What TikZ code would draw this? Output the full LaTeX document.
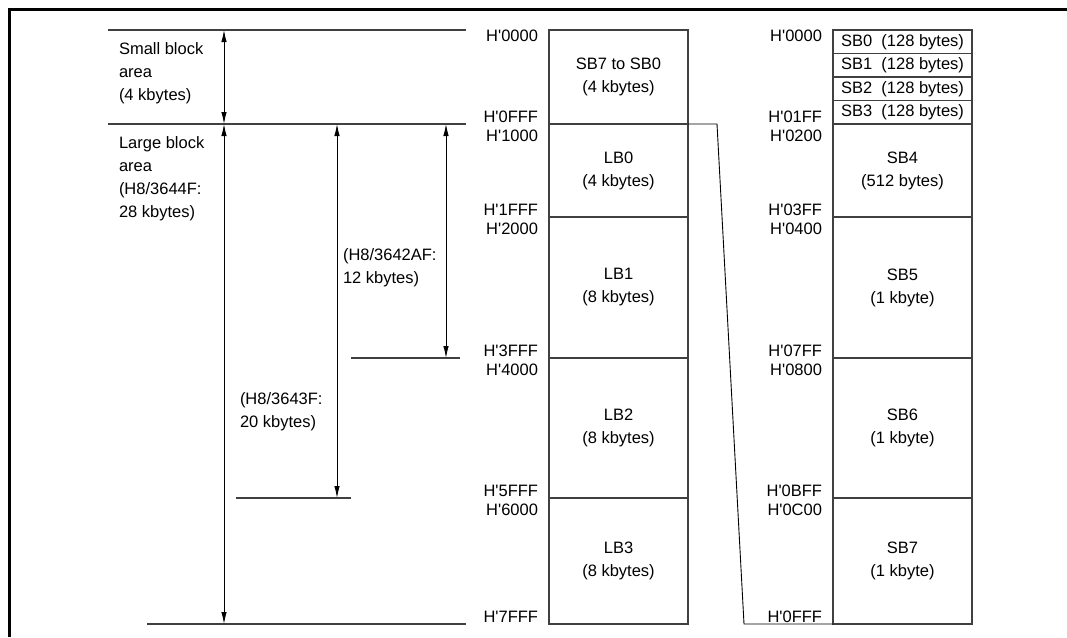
\documentclass[tikz,border=0pt]{standalone}
\usepackage{fontspec}
\setmainfont{Liberation Sans}
\usetikzlibrary{arrows.meta}
\newcommand{\Hq}{H\textquotesingle}
\begin{document}
\begin{tikzpicture}[x=1pt,y=-1pt,
  every node/.style={font=\fontsize{16.5}{23}\selectfont, inner sep=0pt, outer sep=0pt},
  blk/.style={draw=black!75, line width=1.1pt, anchor=north west, align=center, minimum width=139pt},
  addr/.style={anchor=base east},
  lbl/.style={anchor=north west, align=left},
  guide/.style={draw=black!75, line width=1.1pt},
  dim/.style={draw=black, line width=0.9pt, {Latex[length=12pt,width=5.5pt]}-{Latex[length=12pt,width=5.5pt]}},
  frameline/.style={draw=black, line width=3pt}
]
\useasboundingbox (0,0) rectangle (1067,637);

% frame
\coordinate (f0) at (9,637);
\coordinate (f1) at (9,9);
\coordinate (f2) at (1067,9);
\draw[frameline] (f0) -- (f1) -- (f2);

% middle column
\node[blk, minimum height=94pt] (sba) at (549,30) {SB7 to SB0\\(4 kbytes)};
\node[blk, minimum height=93pt] (lb0) at (549,124) {LB0\\(4 kbytes)};
\node[blk, minimum height=141pt] (lb1) at (549,217) {LB1\\(8 kbytes)};
\node[blk, minimum height=140pt] (lb2) at (549,358) {LB2\\(8 kbytes)};
\node[blk, minimum height=126pt] (lb3) at (549,498) {LB3\\(8 kbytes)};

% right column
\node[blk, minimum height=23.5pt] (sb0) at (833,30) {SB0\ \ (128 bytes)};
\node[blk, minimum height=23.5pt] (sb1) at (833,53.5) {SB1\ \ (128 bytes)};
\node[blk, minimum height=23.5pt] (sb2) at (833,77) {SB2\ \ (128 bytes)};
\node[blk, minimum height=23.5pt] (sb3) at (833,100.5) {SB3\ \ (128 bytes)};
\node[blk, minimum height=93pt] (sb4) at (833,124) {SB4\\(512 bytes)};
\node[blk, minimum height=141pt] (sb5) at (833,217) {SB5\\(1 kbyte)};
\node[blk, minimum height=140pt] (sb6) at (833,358) {SB6\\(1 kbyte)};
\node[blk, minimum height=126pt] (sb7) at (833,498) {SB7\\(1 kbyte)};

% connector
\coordinate (k1) at (717,124);
\coordinate (k2) at (744,624);
\draw[guide, line width=0.9pt, draw=black] (lb0.north east) -- (k1) -- (k2) -- (sb7.south west);

% middle addresses
\node[addr] (m0) at (538,41) {\Hq0000};
\node[addr] (m1) at (538,122) {\Hq0FFF};
\node[addr] (m2) at (538,141) {\Hq1000};
\node[addr] (m3) at (538,215) {\Hq1FFF};
\node[addr] (m4) at (538,234) {\Hq2000};
\node[addr] (m5) at (538,356) {\Hq3FFF};
\node[addr] (m6) at (538,375) {\Hq4000};
\node[addr] (m7) at (538,496) {\Hq5FFF};
\node[addr] (m8) at (538,515) {\Hq6000};
\node[addr] (m9) at (538,622) {\Hq7FFF};

% right addresses
\node[addr] (r0) at (822,41) {\Hq0000};
\node[addr] (r1) at (822,122) {\Hq01FF};
\node[addr] (r2) at (822,141) {\Hq0200};
\node[addr] (r3) at (822,215) {\Hq03FF};
\node[addr] (r4) at (822,234) {\Hq0400};
\node[addr] (r5) at (822,356) {\Hq07FF};
\node[addr] (r6) at (822,375) {\Hq0800};
\node[addr] (r7) at (822,496) {\Hq0BFF};
\node[addr] (r8) at (822,515) {\Hq0C00};
\node[addr] (r9) at (822,622) {\Hq0FFF};

% guide lines
\coordinate (g1a) at (108,30);  \coordinate (g1b) at (466,30);
\coordinate (g2a) at (108,124); \coordinate (g2b) at (466,124);
\coordinate (g3a) at (351,358); \coordinate (g3b) at (460,358);
\coordinate (g4a) at (236,498); \coordinate (g4b) at (351,498);
\coordinate (g5a) at (147,624); \coordinate (g5b) at (466,624);
\draw[guide] (g1a) -- (g1b);
\draw[guide] (g2a) -- (g2b);
\draw[guide] (g3a) -- (g3b);
\draw[guide] (g4a) -- (g4b);
\draw[guide] (g5a) -- (g5b);

% dimension arrows
\coordinate (d1a) at (224,30);  \coordinate (d1b) at (224,124);
\coordinate (d2a) at (224,124); \coordinate (d2b) at (224,624);
\coordinate (d3a) at (337,124); \coordinate (d3b) at (337,498);
\coordinate (d4a) at (446,124); \coordinate (d4b) at (446,358);
\draw[dim] (d1a) -- (d1b);
\draw[dim] (d2a) -- (d2b);
\draw[dim] (d3a) -- (d3b);
\draw[dim] (d4a) -- (d4b);

% left labels
\node[lbl] (t1) at (119,43) {Small block\\area\\(4 kbytes)};
\node[lbl] (t2) at (119,137) {Large block\\area\\(H8/3644F:\\28 kbytes)};
\node[lbl] (t3) at (343,249) {(H8/3642AF:\\12 kbytes)};
\node[lbl] (t4) at (240,393) {(H8/3643F:\\20 kbytes)};
\end{tikzpicture}
\end{document}
